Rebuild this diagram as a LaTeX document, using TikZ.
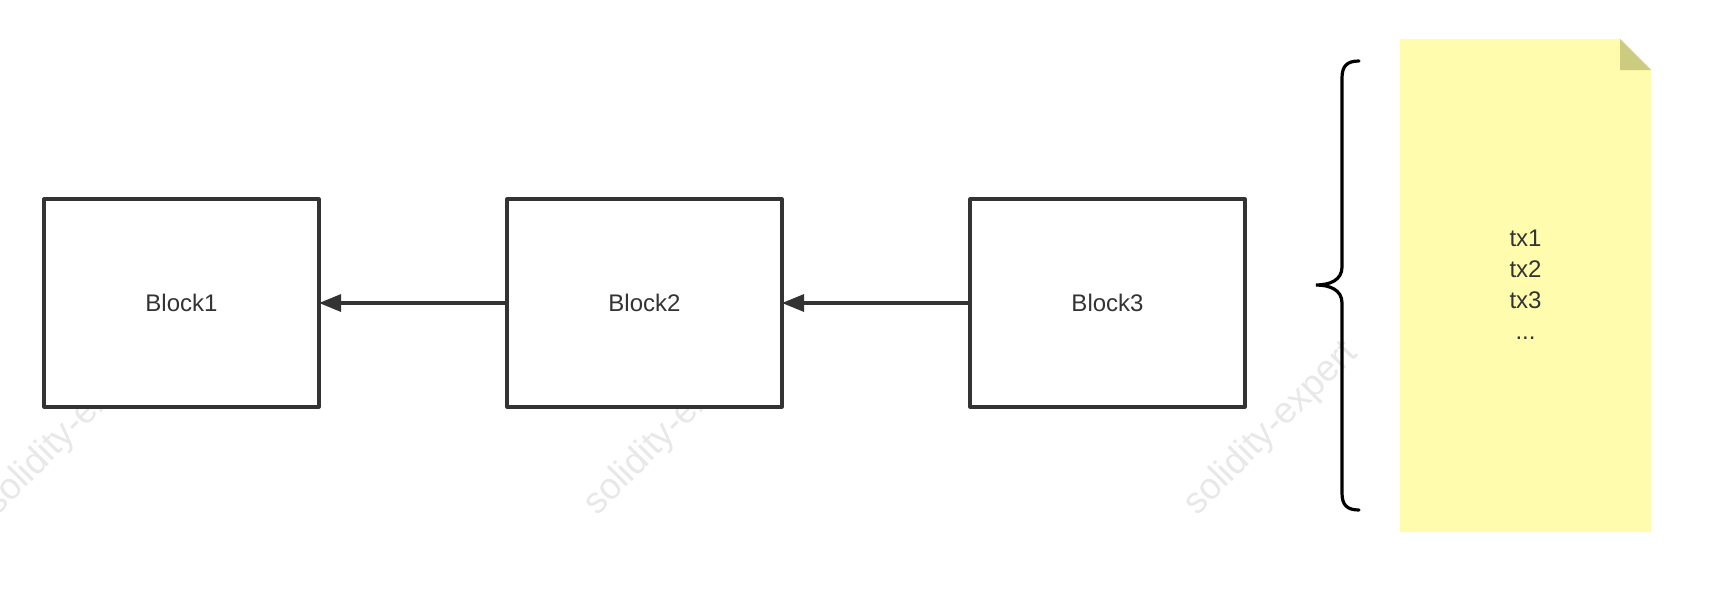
\documentclass[tikz,border=0pt]{standalone}
\usepackage{fontspec}
\setmainfont{Liberation Sans}
\usetikzlibrary{positioning,arrows.meta}
\definecolor{stroke}{RGB}{51,51,51}
\definecolor{notefill}{RGB}{255,252,173}
\definecolor{notefold}{RGB}{205,203,128}
\definecolor{watermark}{RGB}{232,232,232}

\begin{document}
\begin{tikzpicture}[x=0.5pt, y=-0.5pt]
        \tikzset{blockbox/.style={draw=stroke, line width=1.6pt, line join=round, fill=white,
            minimum width=137.5pt, minimum height=104pt, inner sep=0pt, outer sep=0pt,
            text=stroke, font=\fontsize{12}{14}\selectfont}}
        \tikzset{link/.style={draw=stroke, line width=1.6pt, -{Triangle[length=11pt, width=8.5pt]}}}
        \tikzset{wmark/.style={text=watermark, rotate=45, font=\fontsize{18.5}{20}\selectfont}}
        \useasboundingbox (0, 0) rectangle (1720, 596);

        \node[wmark] (wm1) at (71, 429) {solidity-expert};
        \node[wmark] (wm2) at (671, 429) {solidity-expert};
        \node[wmark] (wm3) at (1271, 429) {solidity-expert};

        \node[blockbox] (block1) at (181.5, 303) {Block1};
        \node[blockbox, right=94pt of block1] (block2) {Block2};
        \node[blockbox, right=94pt of block2] (block3) {Block3};
        \draw[link] (block2) -- (block1);
        \draw[link] (block3) -- (block2);

        \draw[stroke, line width=1.6pt, line cap=round] (1359, 61)
            .. controls (1347, 61) and (1342, 66) .. (1342, 78) -- (1342, 267)
            .. controls (1342, 280) and (1330, 285) .. (1316, 285)
            .. controls (1330, 285) and (1342, 290) .. (1342, 303) -- (1342, 493)
            .. controls (1342, 505) and (1347, 510) .. (1359, 510);

        \fill[notefill] (1400, 39) -- (1620, 39) -- (1651, 70) -- (1651, 532) -- (1400, 532) -- cycle;
        \fill[notefold] (1620, 39) -- (1651, 70) -- (1620, 70) -- cycle;
        \node[text=stroke, align=center, font=\fontsize{12}{15.5}\selectfont] (txs) at (1525.5, 285)
            {tx1\\tx2\\tx3\\...};
    \end{tikzpicture}
\end{document}
